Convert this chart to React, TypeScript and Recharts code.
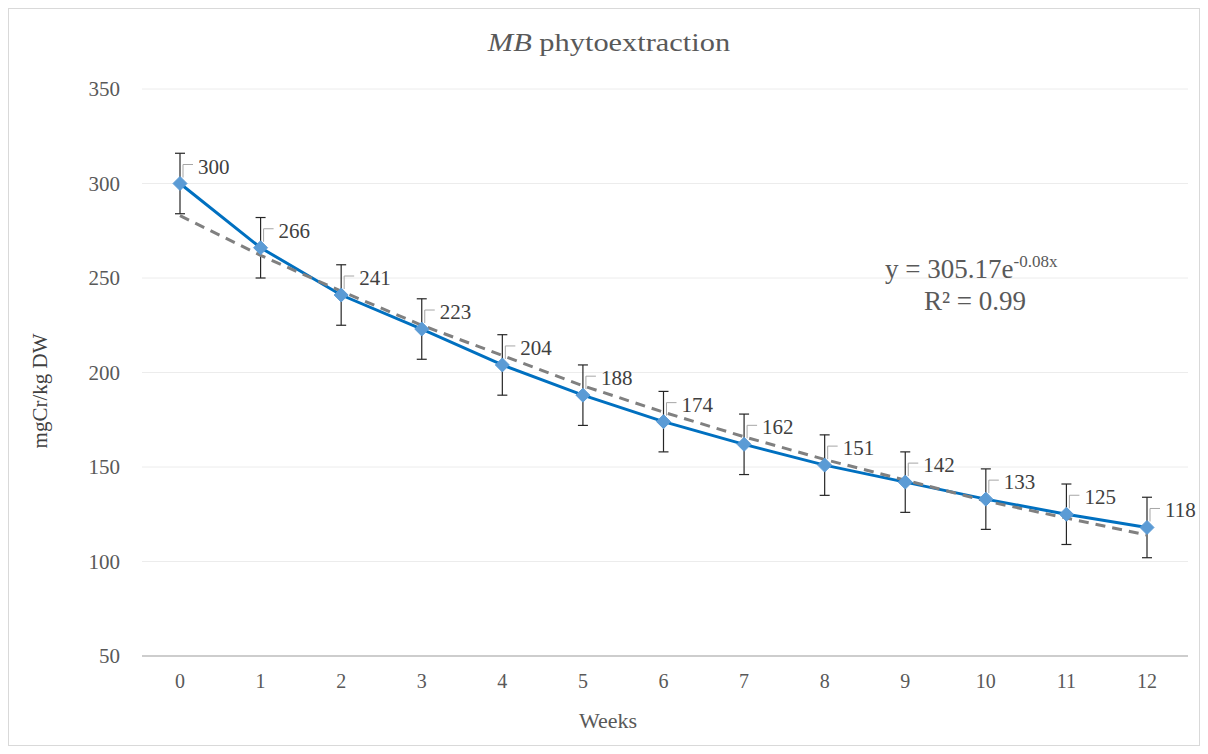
import React from 'react';
import { ComposedChart, Line, XAxis, YAxis, CartesianGrid, ErrorBar, LabelList } from 'recharts';

// weekly Cr concentration in MB plants
const weeks = ['0', '1', '2', '3', '4', '5', '6', '7', '8', '9', '10', '11', '12'];
const concentration = [300, 266, 241, 223, 204, 188, 174, 162, 151, 142, 133, 125, 118];
const errors = [16, 16, 16, 16, 16, 16, 16, 16, 16, 16, 16, 16, 16];
// exponential trendline
const trend = [283, 262, 243, 225, 209, 193, 179, 166, 154, 143, 132, 123, 114];
const yTicks = [50, 100, 150, 200, 250, 300, 350];

const data = weeks.map((w, i) => ({
    week: w,
    value: concentration[i],
    err: errors[i],
    trend: trend[i],
}));

const FONT = "'Liberation Serif', 'Times New Roman', serif";
const TEXT = '#595959';

const Diamond = (props: any) => {
    const { cx, cy } = props;
    if (cx == null || cy == null) return null;
    const s = 7;
    return (
        <polygon
            points={`${cx},${cy - s} ${cx + s},${cy} ${cx},${cy + s} ${cx - s},${cy}`}
            fill="#5B9BD5"
            stroke="#5B9BD5"
        />
    );
};

const Callout = (props: any) => {
    const { x, y, value } = props;
    if (x == null || y == null) return null;
    return (
        <g>
            <path
                d={`M${x + 3},${y - 6} L${x + 3},${y - 19} L${x + 13},${y - 19}`}
                fill="none"
                stroke="#a6a6a6"
                strokeWidth={1}
            />
            <text x={x + 18} y={y - 10} fill="#404040" style={{ fontSize: 21, fontFamily: FONT }}>
                {value}
            </text>
        </g>
    );
};

export default function App() {
    return (
        <div style={{ position: 'relative', width: 1192, height: 738, background: '#fff', fontFamily: FONT }}>
            <ComposedChart
                width={1192}
                height={738}
                data={data}
                margin={{ top: 81, right: 12, left: 0, bottom: 50 }}
                style={{ fontFamily: FONT }}
            >
                <CartesianGrid vertical={false} stroke="#ececec" strokeWidth={1} />
                <XAxis
                    dataKey="week"
                    height={40}
                    padding={{ left: 38, right: 41 }}
                    tickLine={false}
                    tickSize={0}
                    tickMargin={18}
                    axisLine={{ stroke: '#bfbfbf', strokeWidth: 1.5 }}
                    tick={{ fill: TEXT, fontSize: 20, style: { fontFamily: FONT } }}
                />
                <YAxis
                    width={134}
                    domain={[50, 350]}
                    ticks={yTicks}
                    axisLine={false}
                    tickLine={false}
                    tickSize={0}
                    tickMargin={22}
                    tick={{ fill: TEXT, fontSize: 21, style: { fontFamily: FONT } }}
                />
                <Line
                    dataKey="value"
                    stroke="#0070C0"
                    strokeWidth={3}
                    dot={<Diamond />}
                    activeDot={false}
                    isAnimationActive={false}
                >
                    <ErrorBar dataKey="err" width={5} stroke="#262626" strokeWidth={1.2} />
                    <LabelList dataKey="value" content={<Callout />} />
                </Line>
                <Line
                    dataKey="trend"
                    stroke="#808080"
                    strokeWidth={3}
                    strokeDasharray="10 7"
                    dot={false}
                    activeDot={false}
                    isAnimationActive={false}
                />
            </ComposedChart>
            <svg
                width={1192}
                height={738}
                style={{ position: 'absolute', left: 0, top: 0, pointerEvents: 'none', fontFamily: FONT }}
            >
                <rect x={0.5} y={0.5} width={1191} height={737} fill="none" stroke="#d9d9d9" />
                {/* the original title is set noticeably wider than plain Times */}
                <text transform="translate(601,43) scale(1.17,1)" textAnchor="middle" fill={TEXT} fontSize={26}>
                    <tspan fontStyle="italic">MB</tspan> phytoextraction
                </text>
                <text x={600} y={720} textAnchor="middle" fill={TEXT} fontSize={22}>
                    Weeks
                </text>
                <text
                    transform="translate(39,383) rotate(-90)"
                    textAnchor="middle"
                    fill="#404040"
                    fontSize={21}
                >
                    mgCr/kg DW
                </text>
                <text x={877} y={270} fill={TEXT} fontSize={27}>
                    y = 305.17e
                    <tspan fontSize={17} dy={-11}>-0.08x</tspan>
                </text>
                <text x={967} y={302} textAnchor="middle" fill={TEXT} fontSize={27}>
                    R² = 0.99
                </text>
            </svg>
        </div>
    );
}
